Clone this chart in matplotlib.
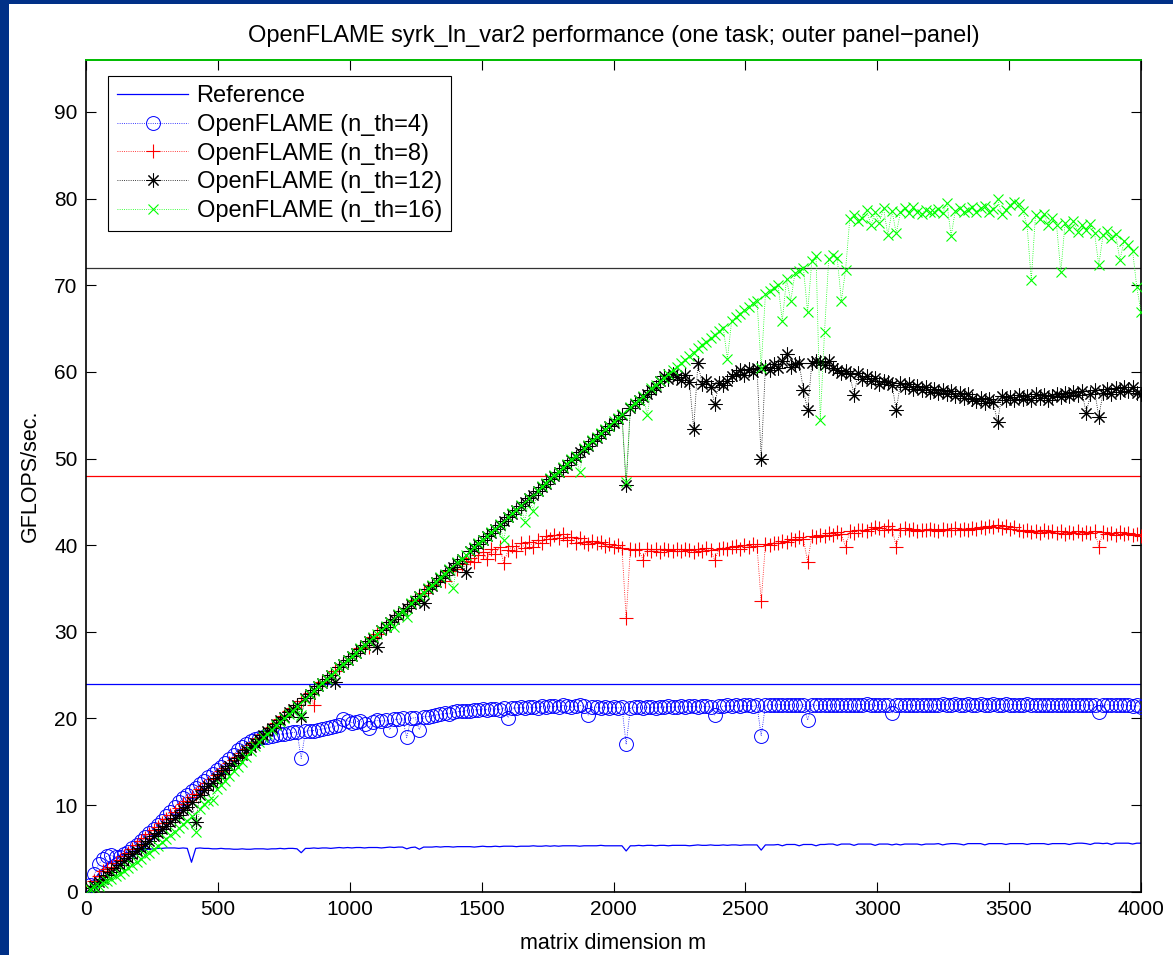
import numpy as np
import matplotlib
matplotlib.use('Agg')
import matplotlib.pyplot as plt
from matplotlib.patches import Rectangle

plt.rcParams['font.family'] = ['Liberation Sans', 'DejaVu Sans']

# matrix sizes m = 16, 32, ..., 4000
m = np.arange(16, 4001, 16)

reference = [
    0.6, 1.4, 2.1, 2.7, 3.2, 3.6, 3.9, 4.2, 4.4, 4.55,
    4.65, 4.75, 4.8, 4.85, 4.9, 4.95, 5.0, 5.0, 5.05, 5.05,
    5.05, 5.0, 5.05, 5.0, 3.4, 5.0, 5.05, 5.0, 5.0, 4.95,
    4.95, 5.0, 4.95, 4.95, 4.9, 4.9, 4.95, 4.9, 4.9, 4.95,
    4.95, 4.95, 4.9, 4.95, 4.95, 5.0, 4.95, 5.0, 5.0, 4.95,
    4.5, 5.0, 5.0, 5.05, 5.0, 5.05, 5.05, 5.0, 5.05, 5.1,
    5.05, 5.1, 5.05, 5.1, 5.1, 5.05, 5.1, 5.1, 5.1, 5.05,
    5.1, 5.15, 5.1, 5.15, 5.15, 4.95, 5.1, 5.15, 4.9, 5.15,
    5.15, 5.15, 5.2, 5.15, 5.2, 5.2, 5.15, 5.2, 5.2, 5.2,
    5.2, 5.15, 5.2, 5.25, 5.2, 5.2, 5.25, 5.2, 5.25, 5.25,
    5.25, 5.2, 5.25, 5.25, 5.25, 5.3, 5.25, 5.25, 5.3, 5.25,
    5.3, 5.25, 5.3, 5.3, 5.3, 5.3, 5.25, 5.3, 5.3, 5.3,
    5.3, 5.35, 5.3, 5.3, 5.3, 5.3, 5.3, 4.7, 5.3, 5.3,
    5.35, 5.3, 5.35, 5.35, 5.3, 5.35, 5.35, 5.3, 5.35, 5.35,
    5.35, 5.35, 5.3, 5.35, 5.4, 5.35, 5.35, 5.4, 5.35, 5.35,
    5.4, 5.35, 5.4, 5.4, 5.35, 5.4, 5.4, 5.4, 5.4, 4.8,
    5.4, 5.4, 5.4, 5.45, 5.3, 5.45, 5.45, 5.45, 5.3, 5.45,
    5.45, 5.45, 5.3, 5.45, 5.45, 5.5, 5.5, 5.35, 5.5, 5.5,
    5.5, 5.35, 5.5, 5.5, 5.5, 5.5, 5.35, 5.5, 5.5, 5.5,
    5.4, 5.5, 5.4, 5.5, 5.5, 5.5, 5.5, 5.4, 5.5, 5.5,
    5.5, 5.55, 5.4, 5.5, 5.55, 5.55, 5.5, 5.4, 5.55, 5.55,
    5.55, 5.55, 5.4, 5.55, 5.55, 5.55, 5.55, 5.45, 5.55, 5.55,
    5.55, 5.55, 5.45, 5.55, 5.55, 5.55, 5.55, 5.45, 5.55, 5.55,
    5.55, 5.55, 5.45, 5.55, 5.6, 5.6, 5.55, 5.45, 5.6, 5.6,
    5.55, 5.6, 5.45, 5.6, 5.6, 5.6, 5.6, 5.5, 5.6, 5.6,
]

nth4 = [
    0.8, 2.0, 3.2, 3.8, 4.1, 4.2, 4.0, 4.0, 4.3, 4.6,
    5.0, 5.4, 5.8, 6.3, 6.8, 7.2, 7.7, 8.2, 8.7, 9.2,
    9.8, 10.3, 10.8, 11.2, 11.6, 12.0, 12.4, 12.8, 13.2, 13.6,
    14.0, 14.4, 14.8, 15.3, 15.8, 16.3, 16.7, 17.1, 17.4, 17.6,
    17.7, 17.8, 17.9, 18.0, 18.1, 18.2, 18.2, 18.3, 18.4, 18.4,
    15.4, 18.5, 18.6, 18.6, 18.7, 18.8, 18.9, 19.0, 19.1, 19.2,
    19.9, 19.7, 19.5, 19.6, 19.7, 19.4, 18.9, 19.6, 19.8, 19.7,
    19.8, 18.7, 19.9, 19.9, 20.0, 17.8, 20.0, 20.1, 18.7, 20.2,
    20.2, 20.3, 20.4, 20.5, 20.6, 20.5, 20.7, 20.8, 20.8, 20.9,
    20.9, 21.0, 21.0, 21.1, 21.0, 21.1, 21.1, 21.0, 21.2, 20.1,
    21.2, 21.2, 21.3, 21.2, 21.3, 21.3, 21.2, 21.4, 21.3, 21.4,
    21.4, 21.3, 21.5, 21.4, 21.3, 21.4, 21.5, 21.4, 20.4, 21.3,
    21.3, 21.2, 21.3, 21.2, 21.3, 21.2, 21.3, 17.0, 21.2, 21.3,
    21.3, 21.2, 21.3, 21.3, 21.2, 21.3, 21.3, 21.4, 21.3, 21.3,
    21.4, 21.3, 21.4, 21.4, 21.3, 21.4, 21.4, 21.3, 20.4, 21.4,
    21.4, 21.5, 21.4, 21.5, 21.4, 21.5, 21.5, 21.4, 21.5, 18.0,
    21.5, 21.6, 21.5, 21.6, 21.6, 21.5, 21.6, 21.6, 21.5, 21.6,
    19.8, 21.6, 21.5, 21.6, 21.6, 21.5, 21.6, 21.6, 21.5, 21.6,
    21.6, 21.5, 21.6, 21.6, 21.7, 21.6, 21.5, 21.6, 21.6, 21.5,
    20.6, 21.6, 21.5, 21.6, 21.6, 21.5, 21.6, 21.6, 21.6, 21.5,
    21.6, 21.6, 21.7, 21.6, 21.6, 21.7, 21.6, 21.6, 21.7, 21.6,
    21.6, 21.7, 21.6, 21.6, 21.7, 21.6, 21.6, 21.7, 21.6, 21.6,
    21.6, 21.6, 21.7, 21.6, 21.6, 21.6, 21.5, 21.6, 21.6, 21.5,
    21.6, 21.6, 21.5, 21.6, 21.6, 21.5, 21.6, 21.5, 21.6, 20.7,
    21.5, 21.6, 21.5, 21.6, 21.5, 21.6, 21.5, 21.4, 21.5, 21.3,
]

nth8 = [
    0.7, 1.2, 1.8, 2.4, 2.6, 2.9, 3.3, 3.7, 4.1, 4.5,
    4.9, 5.4, 5.8, 6.2, 6.7, 7.1, 7.5, 7.9, 8.4, 8.8,
    9.2, 9.7, 10.1, 10.5, 10.9, 11.3, 11.8, 12.2, 12.6, 13.0,
    13.5, 13.9, 14.3, 14.8, 15.2, 15.6, 16.0, 16.5, 16.9, 17.3,
    17.7, 18.2, 18.6, 19.0, 19.5, 19.9, 20.3, 20.8, 21.2, 21.6,
    22.0, 22.4, 22.9, 21.5, 23.7, 24.2, 24.6, 25.0, 25.5, 25.9,
    26.3, 26.8, 27.2, 27.6, 28.1, 28.5, 28.3, 29.4, 29.8, 30.2,
    30.6, 31.1, 31.5, 31.9, 32.4, 32.8, 33.2, 33.7, 34.1, 34.5,
    34.9, 35.4, 35.8, 36.2, 35.9, 37.0, 37.5, 37.3, 37.8, 38.2,
    38.5, 38.0, 38.9, 39.2, 38.4, 39.5, 39.0, 39.8, 37.9, 39.4,
    39.9, 39.3, 40.2, 39.7, 40.4, 39.8, 40.6, 40.2, 41.0, 40.7,
    41.2, 40.8, 41.3, 40.6, 40.9, 40.3, 40.8, 40.4, 40.1, 40.5,
    40.2, 40.4, 39.9, 40.1, 39.8, 40.0, 39.7, 31.6, 39.6, 39.4,
    39.5, 38.3, 39.6, 39.3, 39.5, 39.2, 39.6, 39.4, 39.3, 39.5,
    39.3, 39.6, 39.4, 39.2, 39.5, 39.3, 39.7, 39.4, 38.3, 39.6,
    39.7, 39.5, 39.8, 39.9, 39.6, 40.0, 39.8, 40.1, 39.9, 33.5,
    40.1, 40.0, 40.3, 40.2, 40.5, 40.4, 40.7, 40.6, 40.9, 40.7,
    38.1, 41.0, 40.9, 41.2, 41.1, 41.4, 41.2, 41.5, 41.3, 39.8,
    41.6, 41.4, 41.7, 41.8, 41.6, 41.9, 42.1, 42.0, 41.8, 42.2,
    41.9, 39.8, 41.8, 42.0, 41.7, 41.9, 41.6, 41.8, 41.7, 41.9,
    41.8, 41.6, 41.9, 41.7, 41.8, 42.0, 41.7, 41.9, 41.8, 42.0,
    41.9, 42.1, 42.0, 42.2, 42.1, 42.3, 42.0, 42.2, 41.9, 42.1,
    41.8, 41.6, 41.7, 41.5, 41.6, 41.4, 41.7, 41.5, 41.6, 41.4,
    41.6, 41.3, 41.5, 41.4, 41.6, 41.3, 41.5, 41.4, 41.6, 39.8,
    41.5, 41.3, 41.4, 41.2, 41.5, 41.3, 41.4, 41.2, 41.3, 41.1,
]

nth12 = [
    0.4, 0.7, 1.1, 1.5, 1.9, 2.3, 2.7, 3.1, 3.5, 3.9,
    4.3, 4.7, 5.1, 5.5, 5.9, 6.4, 6.8, 7.2, 7.6, 8.0,
    8.5, 8.9, 9.4, 9.8, 10.3, 8.1, 11.2, 11.7, 12.2, 12.6,
    13.1, 13.6, 14.0, 14.5, 14.9, 15.4, 15.8, 16.3, 16.7, 17.2,
    17.6, 18.1, 18.5, 18.9, 19.4, 19.8, 20.2, 20.7, 21.1, 21.5,
    20.2, 22.4, 22.8, 23.3, 23.7, 24.1, 24.6, 25.0, 24.2, 25.9,
    26.3, 26.7, 27.2, 27.6, 28.0, 28.5, 28.9, 29.3, 28.3, 30.2,
    30.6, 31.1, 31.5, 31.9, 32.4, 32.8, 33.2, 33.6, 34.1, 33.3,
    34.9, 35.3, 35.8, 36.2, 36.6, 37.1, 37.5, 37.9, 38.4, 36.9,
    39.3, 39.7, 40.1, 40.6, 41.0, 41.4, 41.9, 42.3, 42.8, 43.2,
    43.6, 44.1, 44.5, 45.0, 45.4, 45.8, 46.3, 46.7, 47.1, 47.6,
    48.0, 48.5, 48.9, 49.3, 49.8, 50.2, 50.7, 51.1, 51.5, 52.0,
    52.4, 52.8, 53.3, 53.7, 54.1, 54.6, 55.0, 46.9, 55.8, 56.3,
    56.7, 57.1, 57.5, 57.9, 58.3, 58.9, 59.5, 59.2, 59.8, 59.4,
    59.1, 59.6, 58.8, 53.4, 61.0, 58.6, 58.9, 58.3, 56.3, 58.7,
    58.5, 59.0, 59.5, 59.8, 60.2, 59.6, 60.3, 60.0, 60.5, 50.0,
    60.6, 60.2, 60.9, 60.4, 61.2, 62.1, 60.6, 60.9, 61.0, 57.9,
    55.6, 61.0, 61.3, 61.1, 60.8, 61.2, 60.5, 60.2, 59.9, 60.1,
    59.7, 57.3, 59.9, 59.2, 59.5, 58.9, 59.3, 58.6, 58.9, 58.8,
    58.5, 55.6, 58.7, 58.2, 58.6, 58.0, 58.4, 57.9, 58.3, 57.7,
    58.0, 57.6, 57.9, 57.4, 57.8, 57.2, 57.6, 57.0, 57.4, 56.9,
    56.6, 57.0, 56.4, 56.9, 56.5, 54.2, 57.2, 56.7, 57.1, 56.8,
    57.3, 56.9, 57.2, 56.8, 57.4, 57.0, 57.3, 56.8, 57.2, 57.5,
    57.1, 57.6, 57.2, 57.7, 57.3, 57.8, 55.2, 57.4, 57.9, 54.8,
    57.6, 58.0, 57.5, 58.1, 57.7, 58.2, 57.8, 58.3, 57.6, 57.4,
]

nth16 = [
    0.3, 0.5, 0.7, 1.0, 1.2, 1.5, 1.8, 2.1, 2.4, 2.7,
    3.1, 3.4, 3.8, 4.2, 4.5, 4.9, 5.3, 5.7, 6.1, 6.5,
    6.9, 7.4, 7.8, 8.2, 8.7, 6.9, 9.6, 10.1, 10.5, 10.6,
    11.8, 12.3, 12.8, 13.3, 13.9, 14.4, 15.0, 15.6, 16.2, 16.8,
    17.3, 17.8, 18.2, 18.7, 19.2, 19.6, 20.0, 20.5, 20.9, 21.4,
    20.4, 22.3, 22.8, 23.2, 23.7, 24.1, 24.6, 25.0, 25.4, 25.9,
    26.3, 26.8, 27.2, 27.6, 28.1, 28.5, 28.9, 29.4, 29.8, 30.2,
    30.7, 31.1, 30.6, 32.0, 32.4, 31.7, 33.3, 33.7, 34.1, 34.5,
    35.0, 35.4, 35.8, 36.3, 36.7, 37.2, 35.0, 38.0, 38.4, 38.9,
    39.3, 39.8, 40.2, 40.6, 41.1, 41.5, 41.9, 42.4, 40.6, 43.3,
    43.7, 44.1, 44.6, 42.7, 45.5, 44.0, 46.3, 46.8, 47.2, 47.7,
    48.1, 48.5, 49.0, 49.4, 49.9, 50.3, 48.4, 51.2, 51.6, 52.1,
    52.5, 52.9, 53.4, 53.8, 54.3, 54.7, 55.1, 47.3, 56.0, 56.4,
    56.8, 57.2, 55.0, 58.1, 58.5, 58.9, 59.3, 59.8, 60.2, 60.6,
    61.0, 61.4, 61.8, 62.2, 62.7, 63.1, 63.5, 63.9, 64.3, 64.7,
    65.1, 61.5, 65.9, 66.3, 66.7, 67.1, 67.5, 67.9, 68.2, 60.5,
    69.0, 69.3, 69.7, 70.0, 65.9, 70.7, 68.2, 71.4, 71.7, 72.0,
    66.9, 72.8, 73.4, 54.4, 64.6, 73.0, 73.5, 73.2, 68.2, 71.8,
    77.7, 78.1, 77.4, 77.8, 78.7, 76.9, 78.4, 77.2, 78.9, 75.8,
    78.6, 76.0, 78.4, 78.9, 78.3, 79.0, 78.5, 78.2, 78.7, 78.4,
    78.5, 78.8, 78.3, 79.5, 75.7, 78.6, 78.9, 78.4, 78.7, 79.0,
    78.5, 78.9, 79.2, 78.4, 78.8, 80.0, 78.2, 78.7, 79.3, 79.6,
    79.4, 78.6, 76.9, 70.6, 78.1, 77.7, 78.2, 77.0, 77.8, 76.9,
    71.5, 77.2, 76.5, 77.4, 76.2, 77.0, 76.4, 77.1, 76.0, 72.3,
    75.8, 76.3, 75.4, 75.9, 72.9, 75.1, 74.6, 74.0, 69.8, 66.9,
]

# theoretical peaks for 4, 8, 12, 16 threads
peaks = [24, 48, 72, 96]
peak_colors = ['#0000ff', '#ff0000', '#333333', '#00cc00']

fig = plt.figure(figsize=(11.73, 9.55), dpi=100, facecolor='white')
# dark blue slide border on the left and top
fig.patches.append(Rectangle((0, 0), 8.5 / 1173, 1, transform=fig.transFigure,
                             facecolor='#003087', edgecolor='none', zorder=0))
fig.patches.append(Rectangle((0, 1 - 4.5 / 955), 1, 4.5 / 955, transform=fig.transFigure,
                             facecolor='#003087', edgecolor='none', zorder=0))

ax = fig.add_axes([86 / 1173, 1 - 891.7 / 955, 1055 / 1173, 831.7 / 955])

for p, c in zip(peaks, peak_colors):
    if p == 96:
        # sits on the top edge of the box
        ax.axhline(p, color=c, linewidth=1.3, zorder=4, clip_on=False)
    else:
        ax.axhline(p, color=c, linewidth=0.9, zorder=1)

ax.plot(m, reference, '-', color='#0000ff', linewidth=0.9, label='Reference', zorder=2)
ax.plot(m, nth4, linestyle=':', linewidth=0.6, color='#0000ff', marker='o', markersize=10,
        markerfacecolor='none', markeredgewidth=0.7, label='OpenFLAME (n_th=4)', zorder=3)
ax.plot(m, nth8, linestyle=':', linewidth=0.6, color='#ff0000', marker='+', markersize=10,
        markeredgewidth=0.8, label='OpenFLAME (n_th=8)', zorder=3)
ax.plot(m, nth12, linestyle=':', linewidth=0.6, color='black', marker=(8, 2, 0), markersize=10,
        markeredgewidth=0.75, label='OpenFLAME (n_th=12)', zorder=3)
ax.plot(m, nth16, linestyle=':', linewidth=0.6, color='#00ff00', marker='x', markersize=7.5,
        markeredgewidth=0.8, label='OpenFLAME (n_th=16)', zorder=3)

ax.set_xlim(0, 4000)
ax.set_ylim(0, 96)
ax.set_xticks(np.arange(0, 4001, 500))
ax.set_yticks(np.arange(0, 91, 10))
ax.tick_params(direction='in', length=7.5, width=0.8, top=True, right=True,
               labelsize=15, pad=6)
for s in ax.spines.values():
    s.set_linewidth(1.2)

ax.set_xlabel('matrix dimension m', fontsize=15.5, labelpad=10)
ax.set_ylabel('GFLOPS/sec.', fontsize=15.5, labelpad=10)
ax.set_title('OpenFLAME syrk_ln_var2 performance (one task; outer panel\u2212panel)',
             fontsize=17, pad=13)

leg = ax.legend(loc='upper left', bbox_to_anchor=(22 / 1055, 1 - 16 / 831.7),
                borderaxespad=0, fontsize=17, numpoints=1, handlelength=3.0,
                handletextpad=0.35, labelspacing=0.28, borderpad=0.4,
                fancybox=False, framealpha=1, edgecolor='black')
leg.get_frame().set_linewidth(0.8)

fig.savefig('out.png', dpi=100, facecolor=fig.get_facecolor())
